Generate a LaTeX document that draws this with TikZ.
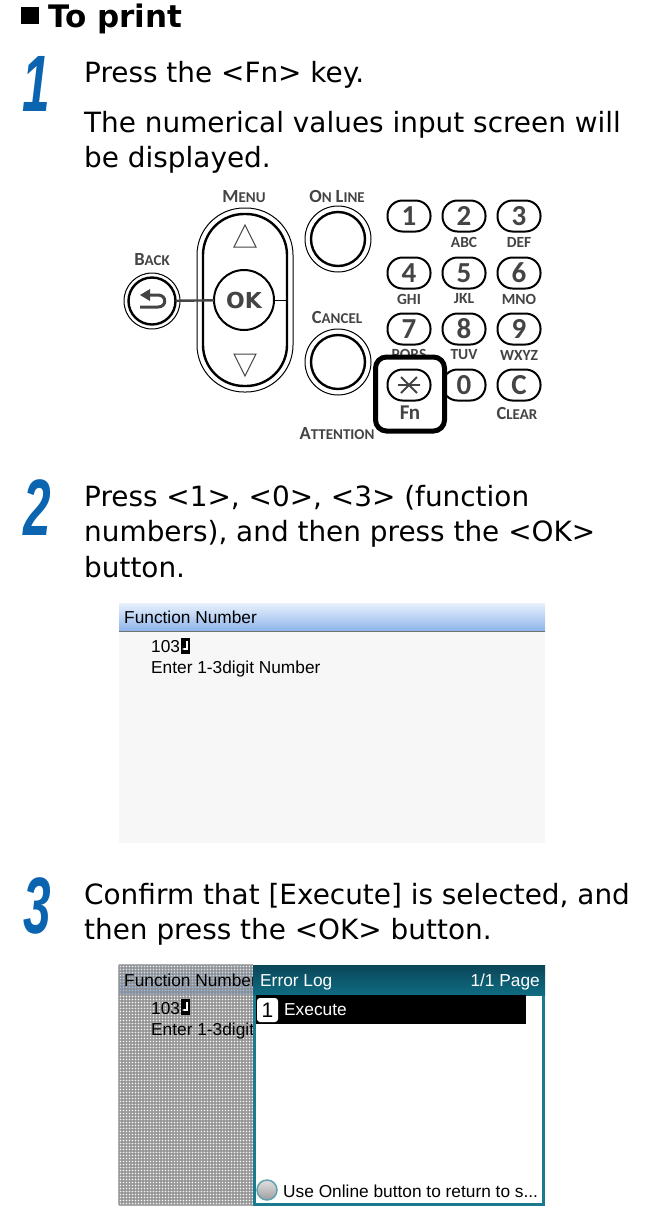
\documentclass[tikz,border=0pt]{standalone}
\usepackage{xcolor}
\usepackage{fontspec}
\setmainfont{DejaVu Sans}
\newfontfamily\keyfont{Carlito}
\newfontfamily\lcdfont{Liberation Sans}
\newfontfamily\stepfont{Liberation Sans}
\usetikzlibrary{arrows.meta}

\definecolor{stepblue}{HTML}{0B64B0}
\definecolor{keygray}{HTML}{444444}
\definecolor{panelteal}{HTML}{1A7A8E}
\definecolor{paneldark}{HTML}{0B4658}
\definecolor{panelmid}{HTML}{0F6C82}
\definecolor{headlight}{HTML}{E8F1FD}
\definecolor{headblue}{HTML}{8DB4EA}
\definecolor{lcdback}{HTML}{F7F7F7}

\newcommand{\smc}[2]{{\fontsize{18.5}{18}\selectfont #1}{\fontsize{15}{15}\selectfont #2}}

\tikzset{
	bodytext/.style={anchor=base west, inner sep=0pt, font=\fontsize{27.9}{30}\selectfont},
	stepnum/.style={inner sep=0pt, text=stepblue, font=\stepfont\bfseries\itshape\fontsize{80}{80}\selectfont, xscale=0.62},
	keylabel/.style={inner sep=0pt, text=keygray, font=\keyfont\bfseries},
	numkey/.style={draw, line width=2pt, rounded corners=15pt, minimum width=43pt, minimum height=31pt, inner sep=0pt, outer sep=0pt, text=keygray, font=\keyfont\bfseries\fontsize{29}{29}\selectfont},
	sublabel/.style={keylabel, font=\keyfont\bfseries\fontsize{15.5}{16}\selectfont},
	ringout/.style={circle, draw, line width=1pt, inner sep=0pt, outer sep=0pt},
	ringin/.style={circle, draw, line width=2.4pt, inner sep=0pt, outer sep=0pt},
	lcdtext/.style={anchor=base west, inner sep=0pt, font=\lcdfont\fontsize{17.3}{20}\selectfont},
}

\begin{document}
\begin{tikzpicture}[x=1pt, y=-1pt]
	\useasboundingbox (0, 0) rectangle (651, 1211);

	% Heading and steps
	\fill (21, 7) rectangle (39, 24);
	\node[anchor=base west, inner sep=0pt, font=\bfseries\fontsize{31}{33}\selectfont] (title) at (48, 27) {To print};

	\node[stepnum] (one) at (36, 84) {1};
	\node[stepnum] (two) at (37, 508) {2};
	\node[stepnum] (three) at (37, 906) {3};

	\node[bodytext] (t1) at (84, 82) {Press the <Fn> key.};
	\node[bodytext] (t2) at (84, 132) {The numerical values input screen will};
	\node[bodytext] (t3) at (84, 167) {be displayed.};
	\node[bodytext] (t4) at (84, 506) {Press <1>, <0>, <3> (function};
	\node[bodytext] (t5) at (84, 541) {numbers), and then press the <OK>};
	\node[bodytext] (t6) at (84, 577) {button.};
	\node[bodytext] (t7) at (84, 904) {Confirm that [Execute] is selected, and};
	\node[bodytext] (t8) at (84, 939) {then press the <OK> button.};

	% Operator panel, left side
	\node[ringout, minimum size=56pt] (backout) at (152, 301) {};
	\node[ringin, minimum size=47pt] (back) at (152, 301) {};
	\node[draw, line width=1pt, rounded corners=47pt, minimum width=96pt, minimum height=184pt, inner sep=0pt] (menuout) at (245, 300) {};
	\node[draw, line width=2.4pt, rounded corners=41pt, minimum width=84pt, minimum height=172pt, inner sep=0pt, outer sep=0pt] (menu) at (245, 300) {};
	\node[circle, draw, line width=2pt, minimum size=60pt, inner sep=0pt, outer sep=0pt, text=keygray, font=\bfseries\fontsize{22}{22}\selectfont] (ok) at (244, 300) {OK};
	\node[ringout, minimum size=66pt] (onlineout) at (338, 239) {};
	\node[ringin, minimum size=54pt] (online) at (338, 239) {};
	\node[ringout, minimum size=66pt] (cancelout) at (338, 362) {};
	\node[ringin, minimum size=54pt] (cancel) at (338, 362) {};

	\draw[line width=2.4pt, keygray] (back) -- (ok);
	\draw[line width=1pt] (ok.east) -- (menu.east);

	\draw[line width=1pt, keygray, line join=miter] (245, 225) -- (256, 247) -- (234, 247) -- cycle;
	\draw[line width=1pt, keygray, line join=miter] (245, 376) -- (256, 354) -- (234, 354) -- cycle;

	% Back arrow
	\fill[keygray] (140, 295) -- (150, 289) -- (150, 301) -- cycle;
	\draw[line width=3pt, keygray] (148, 295) -- (158, 295) .. controls (167, 295) and (167, 307) .. (158, 307) -- (140, 307);

	\node[keylabel] (lmenu) at (244, 197) {\smc{M}{ENU}};
	\node[keylabel] (lonline) at (337, 196) {\smc{O}{N}\hspace{4pt}\smc{L}{INE}};
	\node[keylabel] (lback) at (152, 260) {\smc{B}{ACK}};
	\node[keylabel] (lcancel) at (337, 317) {\smc{C}{ANCEL}};
	\node[keylabel] (lattention) at (337, 434) {\smc{A}{TTENTION}};

	% Numeric keys
	\foreach \name/\x/\y/\sub in {1/409/216/, 2/464/216/ABC, 3/519/216/DEF, 4/409/273/GHI, 5/464/273/JKL, 6/519/273/MNO, 7/409/329/PQRS, 8/464/329/TUV, 9/519/329/WXYZ}
	{
		\node[numkey] (key\name) at (\x, \y) {\name};
		\node[sublabel] (sub\name) at (\x, \y+26) {\sub};
	}
	\node[numkey] (key0) at (464, 385) {0};
	\node[numkey] (keyc) at (519, 385) {C};
	\node[keylabel] (lclear) at (517, 413) {\smc{C}{LEAR}};

	% Fn key in its frame
	\node[draw, fill=white, line width=5pt, rounded corners=11pt, minimum width=69pt, minimum height=74pt, inner sep=0pt] (fnbox) at (410, 394) {};
	\node[numkey] (keyfn) at (409, 385) {};
	\draw[line width=1.8pt, keygray] (398, 385) -- (420, 385) (401, 377) -- (417, 393) (417, 377) -- (401, 393);
	\node[keylabel, font=\keyfont\bfseries\fontsize{21}{21}\selectfont] (lfn) at (410, 413) {Fn};

	% Function number screen
	\fill[lcdback] (119, 603) rectangle (545, 843);
	\shade[top color=headlight, bottom color=headblue] (119, 603) rectangle (545, 631);
	\draw[line width=0.8pt, black!55] (119, 631) -- (545, 631);
	\node[lcdtext] (fnum) at (124, 623) {Function Number};
	\node[lcdtext] (val) at (151, 652) {103};
	\fill (181, 638) rectangle (190, 654);
	\draw[white, line width=1.2pt, -{Stealth[length=3pt]}] (187, 641) -- (187, 649) -- (182, 649);
	\node[lcdtext] (enter) at (151, 673) {Enter 1-3digit Number};

	% Dimmed screen behind the error log
	\fill[lcdback] (119, 965) rectangle (253, 1205);
	\shade[top color=headlight, bottom color=headblue] (119, 965) rectangle (253, 993);
	\foreach \i in {119, 122, ..., 253}
		\draw[line width=1.2pt, black!45, opacity=0.7] (\i, 965) -- (\i, 1205);
	\foreach \i in {965, 968, ..., 1205}
		\draw[line width=1.2pt, black!45, opacity=0.7] (119, \i) -- (253, \i);
	\node[lcdtext] (fnumb) at (124, 986) {Function Number};
	\node[lcdtext] (valb) at (151, 1014) {103};
	\fill (181, 999) rectangle (190, 1015);
	\draw[white, line width=1.2pt, -{Stealth[length=3pt]}] (187, 1002) -- (187, 1010) -- (182, 1010);
	\node[lcdtext] (enterb) at (151, 1035) {Enter 1-3digit Number};

	% Error log panel
	\fill[white, draw=panelteal, line width=3pt] (254.5, 966) rectangle (543.5, 1204);
	\shade[top color=paneldark, bottom color=panelmid] (253, 965) rectangle (545, 995);
	\node[lcdtext, text=white] (errlog) at (260, 986) {Error Log};
	\node[lcdtext, text=white, anchor=base east] (page) at (540, 986) {1/1 Page};
	\fill (256, 995) rectangle (526, 1024);
	\node[fill=white, rounded corners=3pt, minimum width=21pt, minimum height=24pt, inner sep=0pt, font=\lcdfont\fontsize{21}{21}\selectfont] (item) at (267.5, 1010) {1};
	\node[lcdtext, text=white] (exec) at (284, 1015) {Execute};
	\node[circle, draw=panelteal!70, line width=1.5pt, top color=black!12, bottom color=black!38, minimum size=20pt, inner sep=0pt] (lamp) at (267, 1190) {};
	\node[lcdtext] (hint) at (283, 1197) {Use Online button to return to s...};
\end{tikzpicture}
\end{document}
